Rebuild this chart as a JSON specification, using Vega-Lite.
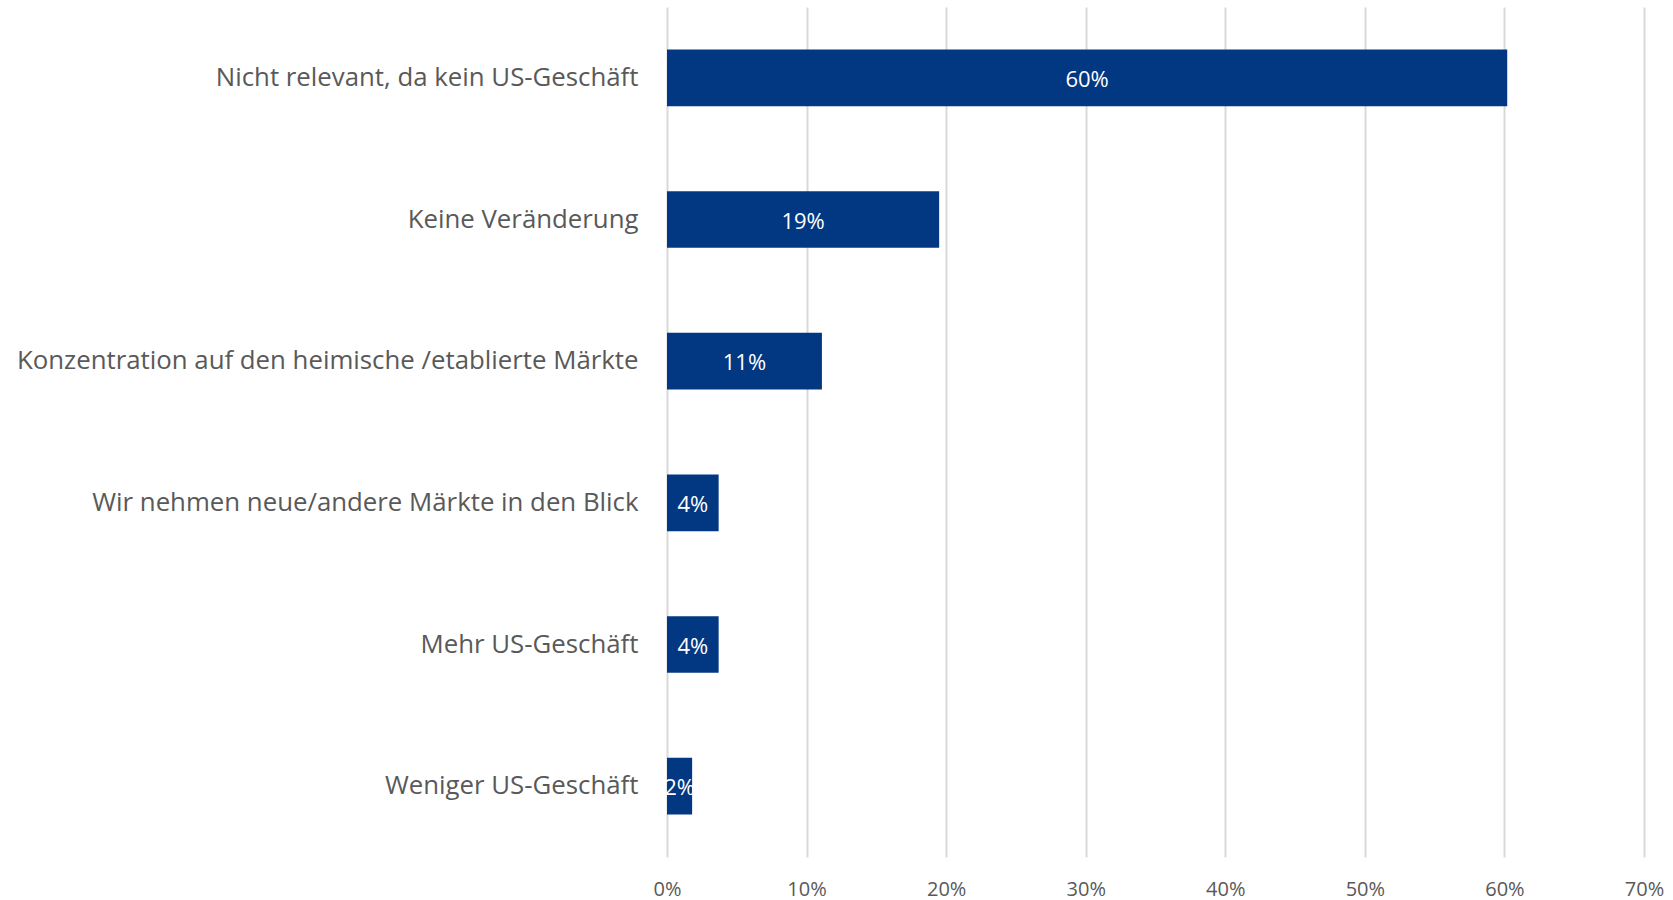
{
  "$schema": "https://vega.github.io/schema/vega-lite/v6.json",
  "width": 977,
  "height": 850,
  "autosize": "none",
  "padding": {"left": 667, "top": 7, "right": 29, "bottom": 43},
  "background": "white",
  "config": {"view": {"stroke": null}, "font": "Open Sans"},
  "data": {"values": [
    {"kategorie": "Nicht relevant, da kein US-Geschäft", "wert": 0.602, "label": "60%"},
    {"kategorie": "Keine Veränderung", "wert": 0.195, "label": "19%"},
    {"kategorie": "Konzentration auf den heimische /etablierte Märkte", "wert": 0.111, "label": "11%"},
    {"kategorie": "Wir nehmen neue/andere Märkte in den Blick", "wert": 0.037, "label": "4%"},
    {"kategorie": "Mehr US-Geschäft\u2002", "wert": 0.037, "label": "4%"},
    {"kategorie": "Weniger US-Geschäft", "wert": 0.018, "label": "2%"}
  ]},
  "encoding": {
    "y": {
      "field": "kategorie", "type": "nominal", "sort": null,
      "scale": {"paddingInner": 0.6, "paddingOuter": 0.3},
      "axis": {"title": null, "ticks": false, "domain": false, "labelPadding": 29, "labelFontSize": 25.8, "labelColor": "#595959", "labelLimit": 700, "labelFont": "Open Sans"}
    }
  },
  "layer": [
    {
      "mark": {"type": "bar", "color": "#023882"},
      "encoding": {
        "x": {
          "field": "wert", "type": "quantitative",
          "scale": {"domain": [0, 0.7], "nice": false},
          "axis": {"title": null, "format": ".0%", "values": [0, 0.1, 0.2, 0.3, 0.4, 0.5, 0.6, 0.7], "ticks": false, "domain": false, "grid": true, "gridColor": "#d9d9d9", "gridWidth": 2, "labelFlush": false, "labelPadding": 22, "labelFontSize": 20, "labelColor": "#595959", "labelFont": "Open Sans"}
        }
      }
    },
    {
      "mark": {"type": "text", "color": "white", "fontSize": 22, "font": "Open Sans", "align": "center", "baseline": "middle", "dy": 2},
      "encoding": {
        "x": {"field": "wert", "type": "quantitative", "scale": {"domain": [0, 1.4], "nice": false}, "axis": null},
        "text": {"field": "label"}
      }
    }
  ],
  "resolve": {"scale": {"x": "independent"}}
}
